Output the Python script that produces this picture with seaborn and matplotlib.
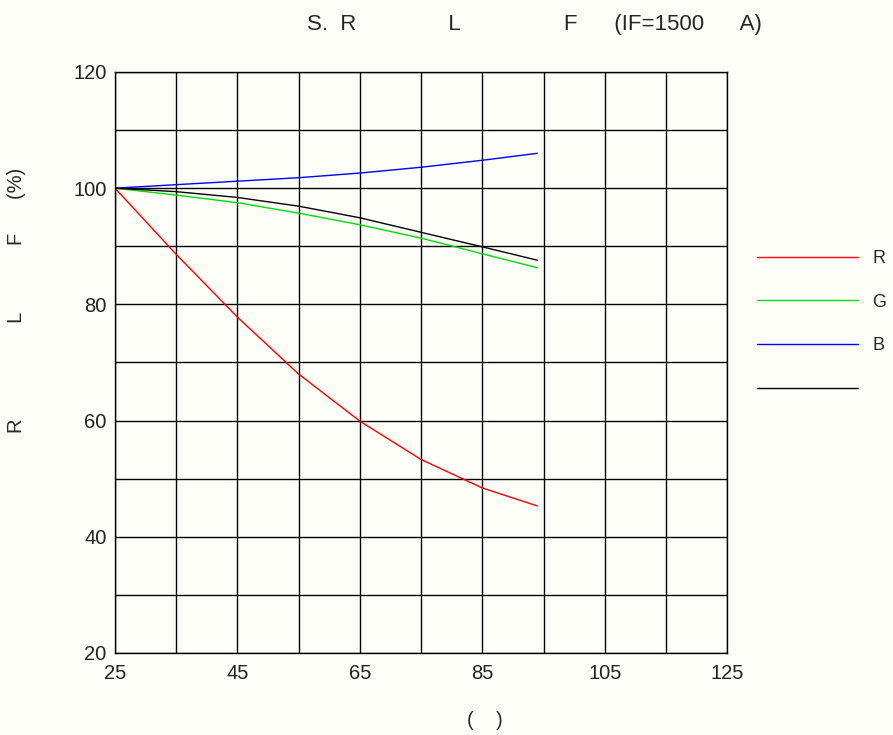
import numpy as np
import pandas as pd
import matplotlib
matplotlib.use("Agg")
import matplotlib.pyplot as plt
import seaborn as sns

# temperature points (x) and relative flux (%) per channel
temps = [25, 35, 45, 55, 65, 75, 85, 94]
red_vals = [100, 88.6, 77.8, 68.0, 59.9, 53.3, 48.4, 45.3]
green_vals = [100, 98.8, 97.5, 95.7, 93.7, 91.4, 88.7, 86.3]
blue_vals = [100, 100.6, 101.2, 101.8, 102.6, 103.6, 104.8, 106.0]
white_vals = [100, 99.4, 98.4, 96.9, 94.9, 92.4, 89.9, 87.6]

channels = ["R", "G", "B", " "]
colors = ["#ff0000", "#00e000", "#0000ff", "#000000"]

x_ticks = [25, 45, 65, 85, 105, 125]
y_ticks = [20, 40, 60, 80, 100, 120]

sns.set_theme(style="white")
plt.rcParams["font.family"] = ["Liberation Sans", "DejaVu Sans"]

bg = "#fefef9"
fig = plt.figure(figsize=(8.93, 7.35), dpi=100, facecolor=bg)
ax = fig.add_axes([0.1288, 0.1116, 0.6855, 0.7905])
ax.set_facecolor(bg)

df = pd.DataFrame({
    "temp": temps * 4,
    "flux": red_vals + green_vals + blue_vals + white_vals,
    "ch": sum([[c] * len(temps) for c in channels], []),
})

sns.lineplot(data=df, x="temp", y="flux", hue="ch", hue_order=channels,
             palette=dict(zip(channels, colors)), linewidth=1.0, ax=ax,
             legend=False)

ax.set_xlim(25, 125)
ax.set_ylim(20, 120)
ax.set_xticks(x_ticks)
ax.set_yticks(y_ticks)
ax.set_xticks(np.arange(35, 125, 10), minor=True)
ax.set_yticks(np.arange(30, 120, 20), minor=True)
ax.grid(True, which="both", color="black", linewidth=1.0)
ax.set_axisbelow(True)
for s in ax.spines.values():
    s.set_color("black")
    s.set_linewidth(1.0)
ax.tick_params(axis="both", which="both", length=0, labelsize=14.5, colors="#222222")
ax.tick_params(axis="x", pad=8)
ax.tick_params(axis="y", pad=6)
ax.set_xlabel("")
ax.set_ylabel("")

handles = [plt.Line2D([], [], color=c, linewidth=1.0) for c in colors]
fig.legend(handles, channels, loc="upper left", bbox_to_anchor=(0.829, 0.682),
           frameon=False, handlelength=5.6, labelspacing=1.48, fontsize=13,
           handletextpad=0.8)

fig.text(0.3435, 0.966, "S.  R" + " " * 15 + "L" + " " * 17 + "F" + " " * 6 + "(IF=1500" + " " * 6 + "A)",
         ha="left", va="center", fontsize=16)
fig.text(0.019, 0.592, "R" + " " * 17 + "L" + " " * 12 + "F" + " " * 6 + "(%)",
         rotation=90, ha="center", va="center", fontsize=14.5)
fig.text(0.543, 0.02, "(    )", ha="center", va="center", fontsize=14.5)

fig.savefig("out.png", dpi=100, facecolor=bg)
